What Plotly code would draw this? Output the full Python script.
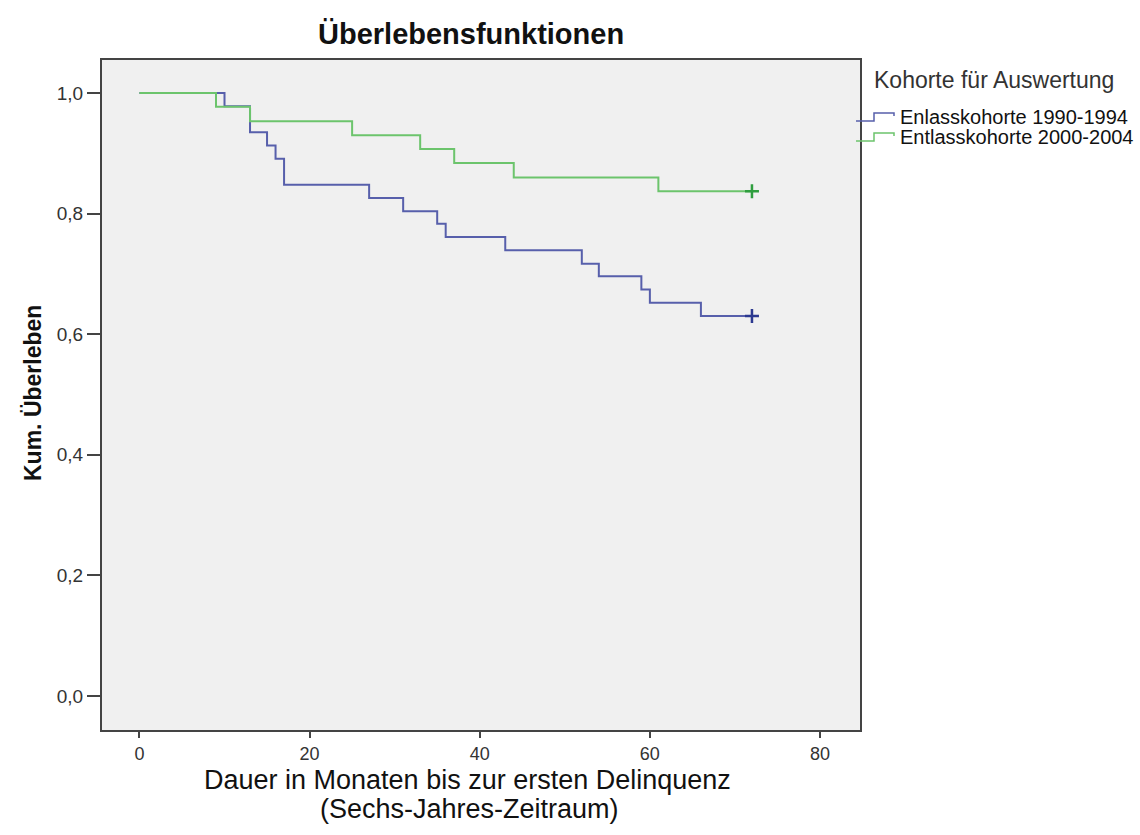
import plotly.graph_objects as go

# Data
blue_name = "Enlasskohorte 1990-1994"
blue_t = [0, 10, 13, 15, 16, 17, 27, 31, 35, 36, 43, 52, 54, 59, 60, 66, 72]
blue_s = [1.0, 0.978, 0.935, 0.913, 0.891, 0.848, 0.826, 0.804, 0.783, 0.761,
          0.739, 0.717, 0.696, 0.674, 0.652, 0.630, 0.630]
green_name = "Entlasskohorte 2000-2004"
green_t = [0, 9, 13, 25, 33, 37, 44, 61, 72]
green_s = [1.0, 0.977, 0.953, 0.930, 0.907, 0.884, 0.860, 0.837, 0.837]

x_ticks = [0, 20, 40, 60, 80]
y_ticks = [0.0, 0.2, 0.4, 0.6, 0.8, 1.0]

BLUE = "#575fab"
BLUE_D = "#2c3990"
GREEN = "#6cc46c"
GREEN_D = "#2f9e3f"

fig = go.Figure()
fig.add_trace(go.Scatter(x=blue_t, y=blue_s, mode="lines", line_shape="hv",
                         line=dict(color=BLUE, width=2), name=blue_name, showlegend=False))
fig.add_trace(go.Scatter(x=green_t, y=green_s, mode="lines", line_shape="hv",
                         line=dict(color=GREEN, width=2), name=green_name, showlegend=False))
# censored markers
fig.add_trace(go.Scatter(x=[blue_t[-1]], y=[blue_s[-1]], mode="markers",
                         marker=dict(symbol="cross-thin", size=10, line=dict(color=BLUE_D, width=2.5)),
                         showlegend=False))
fig.add_trace(go.Scatter(x=[green_t[-1]], y=[green_s[-1]], mode="markers",
                         marker=dict(symbol="cross-thin", size=10, line=dict(color=GREEN_D, width=2.5)),
                         showlegend=False))

W, H = 1140, 835
L, R, T, B = 102, 280, 60, 105
PW, PH = W - L - R, H - T - B

def px(xp, yp):
    """pixel position -> paper coordinates"""
    return (xp - L) / PW, 1 - (yp - T) / PH

fig.update_layout(
    width=W, height=H,
    margin=dict(l=L, r=R, t=T, b=B),
    paper_bgcolor="white",
    plot_bgcolor="#f0f0f0",
    separators=",.",
    font=dict(family="Liberation Sans, Arial", color="#222"),
    xaxis=dict(range=[-4.4, 84.7], tickvals=x_ticks, ticks="outside", ticklen=6,
               tickwidth=2, tickcolor="#444", showgrid=False, zeroline=False,
               showline=True, linecolor="#444", linewidth=2, mirror=True,
               tickfont=dict(size=18, color="#333")),
    yaxis=dict(range=[-0.0564, 1.0547], tickvals=y_ticks, tickformat=".1f",
               ticks="outside", ticklen=13, tickwidth=2, tickcolor="#444",
               showgrid=False, zeroline=False, showline=True, linecolor="#444",
               linewidth=2, mirror=True, tickfont=dict(size=19, color="#333")),
)

def A(text, xp, yp, size, color="#111", xanchor="center", angle=0):
    x, y = px(xp, yp)
    return dict(text=text, x=x, y=y, xref="paper", yref="paper", showarrow=False,
                xanchor=xanchor, yanchor="middle", textangle=angle,
                font=dict(size=size, color=color))

ann = [
    A("<b>Überlebensfunktionen</b>", 471, 34, 29),
    A("<b>Kum. Überleben</b>", 33, 393, 23, angle=-90),
    A("Dauer in Monaten bis zur ersten Delinquenz", 467, 780, 27),
    A("(Sechs-Jahres-Zeitraum)", 469, 809, 27),
    A("Kohorte für Auswertung", 872, 80, 23, color="#333", xanchor="left"),
    A(blue_name, 898, 117, 20, xanchor="left"),
    A(green_name, 898, 137, 20, xanchor="left"),
]
fig.update_layout(annotations=ann)

# legend step icons
shapes = []
for yy, col in [(117, BLUE), (137, GREEN)]:
    pts = [(856, yy + 4), (874, yy + 4), (874, yy - 4), (894, yy - 4), (894, yy - 1)]
    path = "M " + " L ".join(f"{px(a, b)[0]},{px(a, b)[1]}" for a, b in pts)
    shapes.append(dict(type="path", path=path, xref="paper", yref="paper",
                       line=dict(color=col, width=1.5)))
fig.update_layout(shapes=shapes)

fig.write_html("out.html")
